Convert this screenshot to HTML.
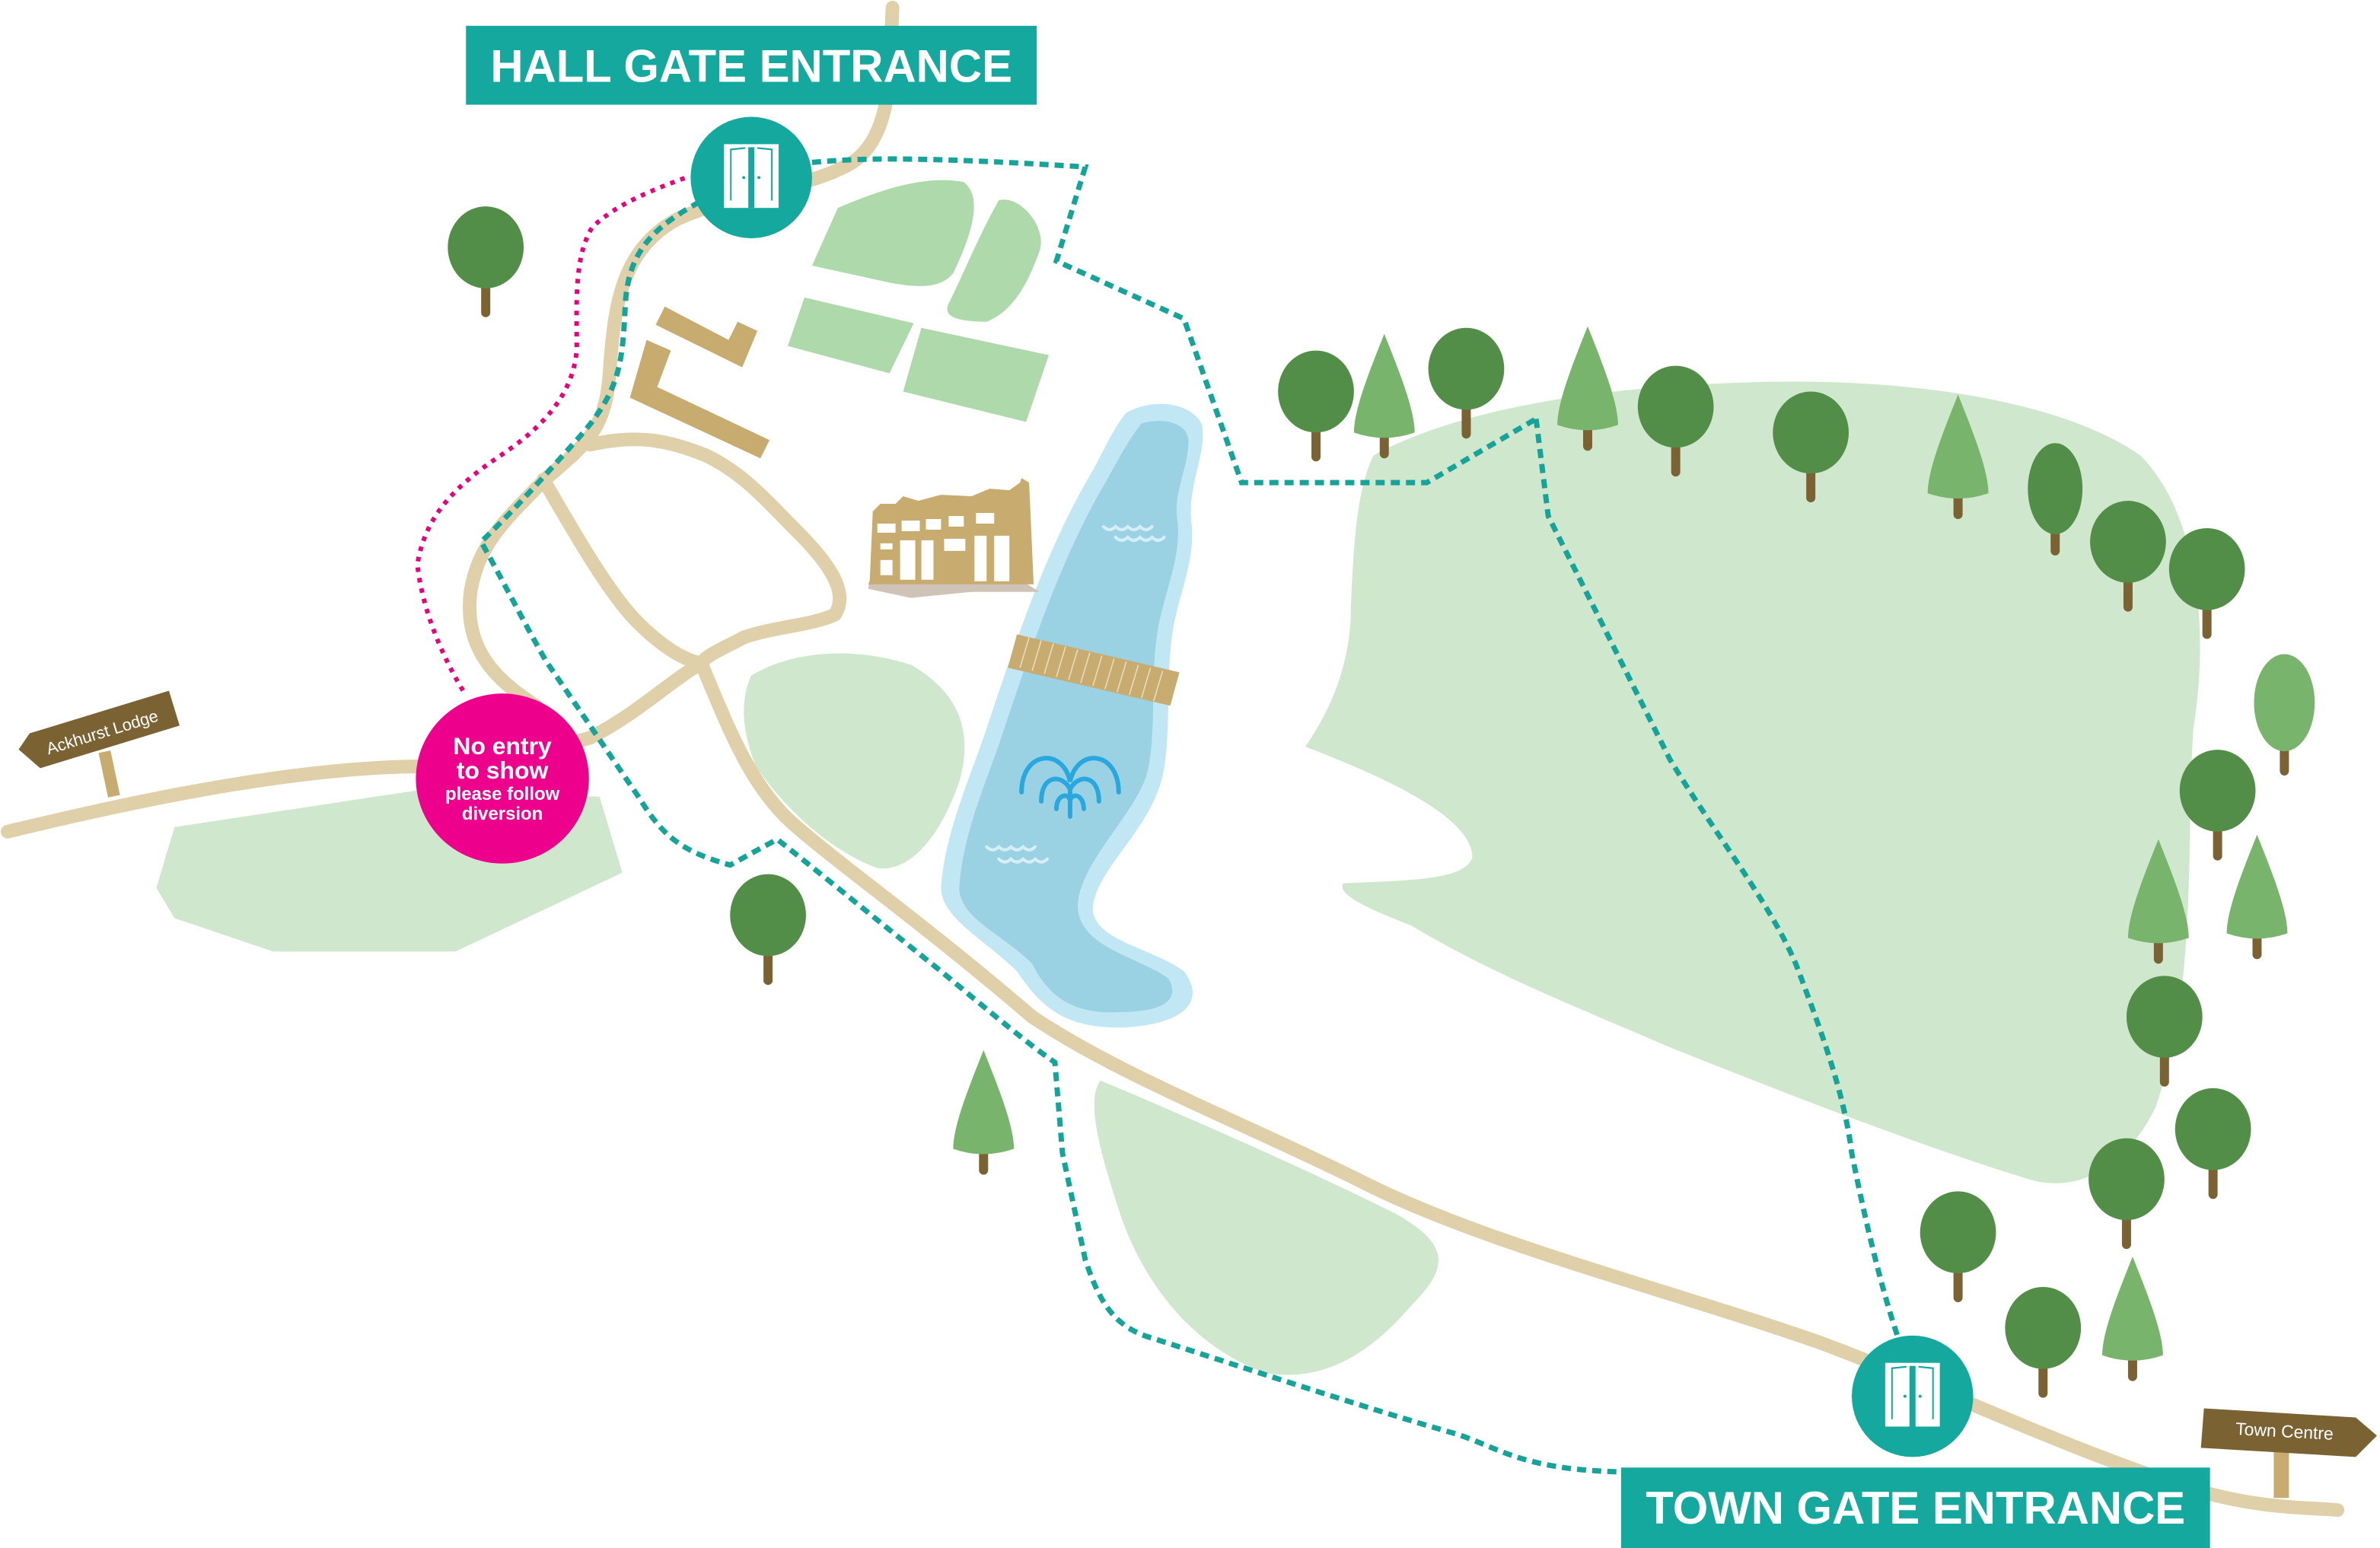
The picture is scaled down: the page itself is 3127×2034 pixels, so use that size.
<!DOCTYPE html>
<html><head><meta charset="utf-8"><style>html,body{margin:0;padding:0;background:#fff}svg{display:block}text{font-family:"Liberation Sans",sans-serif}</style></head>
<body>
<svg width="3127" height="2034" viewBox="0 0 1568 1020" preserveAspectRatio="none" xmlns="http://www.w3.org/2000/svg">
<defs>
<g id="rt"><rect x="-3" y="20" width="6" height="26" rx="3" fill="#7b6233"/><ellipse cx="0" cy="0" rx="25" ry="27" fill="#528e47"/></g>
<g id="ct"><rect x="-3" y="60" width="6" height="22" rx="3" fill="#7b6233"/><path d="M0 0 C10 25 20 50 20 65 Q0 72 -20 65 C-20 50 -10 25 0 0Z" fill="#78b46b"/></g>
<g id="door"><rect x="-18" y="-22" width="36" height="42" fill="#fff"/><path d="M-14 -19 L-4 -20 L-4 18 L-14 15Z M14 -19 L4 -20 L4 18 L14 15Z" fill="#14a89e"/><path d="M-13 -18 L-3 -19 L-3 19 L-13 16Z M13 -18 L3 -19 L3 19 L13 16Z" fill="#fff"/><rect x="-2" y="-20" width="4" height="40" fill="#14a89e"/><circle cx="-5" cy="0" r="1" fill="#14a89e"/><circle cx="5" cy="0" r="1" fill="#14a89e"/></g>
</defs>
<!-- green areas -->
<path d="M905 300 C960 270 1050 255 1150 252 C1260 248 1360 265 1410 300 C1450 340 1455 420 1445 480 C1440 560 1448 650 1420 730 C1400 770 1370 785 1340 778 C1280 760 1200 730 1100 690 C1030 660 980 640 930 610 C905 600 880 590 885 582 C930 580 965 580 970 565 C970 540 920 515 860 492 C875 470 890 440 890 400 C892 350 895 320 905 300Z" fill="#cfe7cc"/>
<path d="M115 545 L280 520 L395 525 L410 575 L300 627 L180 627 L115 605 L103 585Z" fill="#cfe7cc"/>
<path d="M495 445 C520 430 560 425 600 438 C630 455 642 480 632 515 C620 550 600 575 578 572 C545 560 515 530 498 505 C488 480 488 460 495 445Z" fill="#cfe7cc"/>
<path d="M725 712 C780 735 860 770 920 800 C955 820 955 835 930 860 C900 895 870 910 835 905 C790 890 755 850 738 800 C725 760 715 725 725 712Z" fill="#cfe7cc"/>
<!-- fields -->
<path d="M552 137 C580 125 610 115 635 120 C648 130 640 155 628 180 C620 190 605 190 585 186 L535 175Z" fill="#aed9ab"/>
<path d="M658 132 C672 128 690 150 685 165 C678 185 668 205 650 212 C635 212 620 210 625 200 C635 180 645 155 658 132Z" fill="#aed9ab"/>
<path d="M530 196 L602 213 L586 246 L519 228Z" fill="#aed9ab"/>
<path d="M607 216 L691 234 L676 278 L595 258Z" fill="#aed9ab"/>
<!-- lake -->
<path d="M742 272 C760 262 785 265 792 280 C795 300 782 320 785 345 C788 370 775 395 772 420 C768 450 772 490 765 515 C755 550 720 575 720 600 C722 620 760 625 780 640 C795 660 780 675 740 677 C700 678 685 662 670 640 C650 620 620 605 620 585 C622 550 640 510 650 480 C670 420 690 360 720 310 C728 295 735 280 742 272Z" fill="#c1e6f4"/>
<path d="M752 279 C765 275 782 278 783 290 C783 310 772 325 776 345 C778 370 765 395 762 420 C758 450 762 490 755 512 C745 540 710 570 710 598 C712 625 750 630 770 645 C778 660 765 667 735 667 C705 668 690 655 680 635 C660 615 632 605 632 585 C634 550 650 515 660 485 C680 425 700 365 730 315 C738 300 745 288 752 279Z" fill="#9ad2e4"/>
<g fill="none" stroke="#d6eef7" stroke-width="2" stroke-linecap="round">
<path d="M727 347 q4 4 8 0 q4 4 8 0 q4 4 8 0 q4 4 8 0"/><path d="M735 354 q4 4 8 0 q4 4 8 0 q4 4 8 0 q4 4 8 0"/>
<path d="M650 558 q4 4 8 0 q4 4 8 0 q4 4 8 0 q4 4 8 0"/><path d="M658 566 q4 4 8 0 q4 4 8 0 q4 4 8 0 q4 4 8 0"/></g>
<g fill="none" stroke="#29a7df" stroke-width="3" stroke-linecap="round">
<path d="M673 522 C673 495 700 492 705 515 C710 492 737 495 737 522"/>
<path d="M686 528 C686 510 700 510 705 520 C710 510 724 510 724 528"/>
<path d="M696 533 C696 524 703 522 705 527 C707 522 714 524 714 533"/>
<line x1="705" y1="520" x2="705" y2="538"/></g>
<!-- bridge -->
<path d="M670 418 L777 443 L771 465 L664 440Z" fill="#c8ab6f"/>
<g stroke="#e8dcc0" stroke-width="0.8"><path d="M678 420 l-6 20 M686 422 l-6 20 M694 424 l-6 20 M702 426 l-6 20 M710 428 l-6 20 M718 430 l-6 20 M726 432 l-6 20 M734 434 l-6 20 M742 436 l-6 20 M750 438 l-6 20 M758 440 l-6 20 M766 442 l-6 20"/></g>
<!-- house -->
<path d="M572 388 L600 394 L640 390 L685 390 L672 382 L573 382Z" fill="#cfc3b8"/>
<path d="M573 383 L575 337 L580 332 L590 332 L595 327 L605 330 L620 326 L640 327 L652 322 L665 323 L672 318 L673 315 L678 318 L681 385 L572 385Z" fill="#c8ab6f"/>
<g fill="#fff"><rect x="578" y="345" width="12" height="6"/><rect x="594" y="343" width="12" height="7"/><rect x="610" y="342" width="10" height="7"/><rect x="625" y="340" width="10" height="7"/><rect x="643" y="338" width="12" height="7"/><rect x="580" y="358" width="8" height="4"/><rect x="593" y="356" width="10" height="26"/><rect x="607" y="356" width="8" height="26"/><rect x="622" y="355" width="14" height="8"/><rect x="642" y="353" width="8" height="30"/><rect x="655" y="353" width="10" height="30"/><rect x="580" y="369" width="8" height="10"/></g>
<!-- buildings -->
<path d="M438 202 L480 224 L486 212 L499 218 L489 242 L432 214Z" fill="#c8ab6f"/>
<path d="M426 224 L442 231 L433 255 L507 290 L501 302 L415 262Z" fill="#c8ab6f"/>
<!-- roads -->
<g fill="none" stroke="#e0d0aa" stroke-width="9" stroke-linecap="round" stroke-linejoin="round">
<path d="M5 548 C100 525 200 505 280 505 C330 500 360 495 389 486 C420 470 440 450 462 437"/>
<path d="M588 5 C586 40 590 90 560 108 C530 125 480 128 445 145 C410 165 405 200 402 240 C400 280 390 290 360 315 C330 345 315 360 310 390 C305 430 330 450 353 465"/>
<path d="M358 316 C375 345 400 390 420 410 C435 425 450 435 462 437"/>
<path d="M389 293 C420 286 440 290 465 300 C490 312 505 330 525 350 C545 370 560 390 550 405 C535 412 510 413 490 420 C475 428 465 432 462 437"/>
<path d="M462 437 C480 480 495 520 525 545 C560 575 610 610 680 670 C740 710 820 740 900 780 C980 820 1100 850 1200 885 C1280 915 1350 950 1440 980 C1490 995 1520 993 1540 995"/>
</g>
<!-- teal dashed -->
<g fill="none" stroke="#16a49a" stroke-width="3.5" stroke-dasharray="6 4">
<path d="M535 107 C560 105 590 102 715 110 L696 172 L780 210 L818 318 L940 318 L1012 276"/>
<path d="M1012 276 L1020 340 C1040 380 1070 440 1100 500 C1130 550 1170 600 1185 640 C1200 680 1215 720 1220 760 C1230 810 1240 850 1250 880"/>
<path d="M461 133 C430 150 414 166 412 200 C410 240 409 258 379 291 C360 312 340 335 317 357 C330 380 345 410 360 436 C380 465 400 495 420 524 C435 548 445 560 481 570 L512 553 C540 575 570 600 620 640 C650 665 680 690 695 700 L700 760 L715 830 C725 860 735 875 760 882 C810 898 900 928 960 945 C990 955 1005 970 1080 970"/>
</g>
<!-- pink diversion -->
<path d="M305 455 C290 430 278 400 275 372 C280 340 300 320 330 300 C360 280 378 258 380 230 C380 200 378 170 390 150 C405 135 430 125 452 117" fill="none" stroke="#e8007f" stroke-width="3" stroke-dasharray="3 4"/>
<!-- signs -->
<rect x="68" y="495" width="8" height="30" fill="#c8ab6f" transform="rotate(-12 72 510)"/>
<g transform="rotate(-17 65 485)"><path d="M12 478 L22 470 L118 470 L118 494 L22 494Z" fill="#7b6233"/><text x="68" y="487" font-size="11" fill="#fff" text-anchor="middle">Ackhurst Lodge</text></g>
<rect x="1498" y="955" width="10" height="32" fill="#c8ab6f"/>
<path d="M1452 928 L1552 934 L1566 946 L1552 960 L1450 954Z" fill="#7b6233"/>
<text x="1505" y="947" font-size="11.5" fill="#fff" text-anchor="middle" transform="rotate(3 1505 945)">Town Centre</text>
<!-- trees -->
<use href="#rt" x="320" y="163"/><use href="#rt" x="867" y="258"/><use href="#rt" x="966" y="243"/><use href="#rt" x="1104" y="268"/><use href="#rt" x="1193" y="285"/><use href="#rt" x="1402" y="357"/><use href="#rt" x="1454" y="375"/><use href="#rt" x="1461" y="521"/><use href="#rt" x="1426" y="670"/><use href="#rt" x="1458" y="744"/><use href="#rt" x="1401" y="777"/><use href="#rt" x="1290" y="812"/><use href="#rt" x="1346" y="875"/><use href="#rt" x="506" y="603"/>
<rect x="1351" y="340" width="6" height="26" rx="3" fill="#7b6233"/><ellipse cx="1354" cy="322" rx="18" ry="30" fill="#528e47"/>
<rect x="1502" y="485" width="6" height="26" rx="3" fill="#7b6233"/><ellipse cx="1505" cy="463" rx="20" ry="32" fill="#78b46b"/>
<use href="#ct" x="912" y="220"/><use href="#ct" x="1046" y="215"/><use href="#ct" x="1290" y="260"/><use href="#ct" x="1422" y="553"/><use href="#ct" x="1487" y="550"/><use href="#ct" x="1405" y="828"/><use href="#ct" x="648" y="692"/>
<!-- gates -->
<circle cx="495" cy="117" r="40" fill="#14a89e"/><use href="#door" x="495" y="117"/>
<circle cx="1260" cy="920" r="40" fill="#14a89e"/><use href="#door" x="1260" y="920"/>
<!-- labels -->
<rect x="307" y="17" width="376" height="52" fill="#14a89e"/>
<text x="495" y="54" font-size="30" font-weight="bold" fill="#fff" text-anchor="middle">HALL GATE ENTRANCE</text>
<rect x="1068" y="967" width="388" height="53" fill="#14a89e"/>
<text x="1262" y="1004" font-size="30" font-weight="bold" fill="#fff" text-anchor="middle">TOWN GATE ENTRANCE</text>
<!-- no entry -->
<ellipse cx="331" cy="513" rx="57" ry="56" fill="#ec008c"/>
<g fill="#fff" font-weight="bold" text-anchor="middle"><text x="331" y="497" font-size="16">No entry</text><text x="331" y="513" font-size="16">to show</text><text x="331" y="527" font-size="12">please follow</text><text x="331" y="540" font-size="12">diversion</text></g>
</svg>
</body></html>
